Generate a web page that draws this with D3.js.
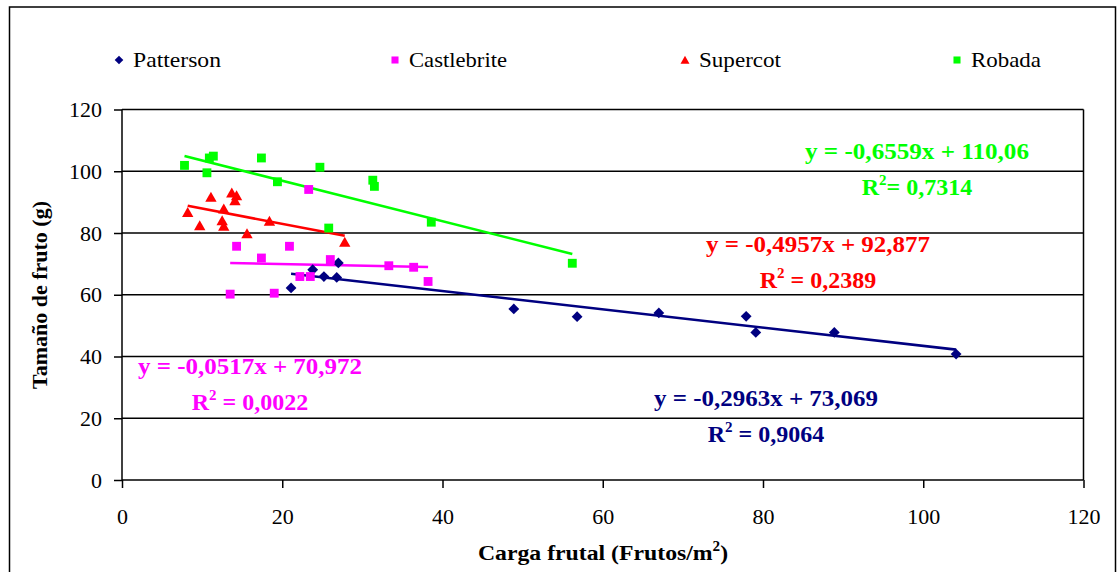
<!DOCTYPE html>
<html>
<head>
<meta charset="utf-8">
<script src="https://cdn.jsdelivr.net/npm/d3@7"></script>
<style>
  html, body { margin: 0; padding: 0; background: #fff; }
  svg { display: block; }
  svg text { font-family: "Liberation Serif", "Times New Roman", serif !important; }
</style>
</head>
<body>
<svg id="chart" width="1118" height="572"></svg>
<script>
// Fruit load (fruits/m2) vs. fruit size (g) for four apricot cultivars
const seriesNames = ["Patterson", "Castlebrite", "Supercot", "Robada"];
const seriesColors = ["#000080", "#FF00FF", "#FF0000", "#00FF00"];
const seriesShapes = ["diamond", "square", "triangle", "square"];

const pattersonX = [21.1, 23.8, 25.2, 26.8, 27.0, 48.9, 56.8, 67.0, 77.9, 79.1, 88.9, 104.1];
const pattersonY = [62.2, 68.1, 65.9, 65.6, 70.3, 55.4, 52.9, 54.1, 53.0, 47.8, 47.8, 40.8];

const castlebriteX = [14.3, 20.9, 17.4, 26.0, 33.3, 36.4, 38.2, 22.2, 23.5, 13.5, 19.0, 23.3];
const castlebriteY = [75.7, 75.7, 71.9, 71.4, 69.4, 68.9, 64.3, 65.9, 65.9, 60.2, 60.5, 94.1];

const supercotX = [8.2, 11.1, 13.7, 14.3, 14.1, 12.7, 9.7, 12.5, 12.7, 15.6, 18.4, 27.8];
const supercotY = [86.7, 91.6, 93.0, 92.1, 90.5, 87.8, 82.4, 84.0, 82.2, 79.8, 83.8, 77.0];

const robadaX = [7.8, 10.6, 10.9, 11.4, 17.4, 24.7, 19.4, 31.3, 31.5, 38.6, 25.8, 56.2];
const robadaY = [101.9, 99.5, 104.3, 104.9, 104.3, 101.3, 96.6, 97.1, 95.1, 83.5, 81.6, 70.2];

// Linear trend lines: slope, intercept, R²
const trendSlopes = [-0.2963, -0.0517, -0.4957, -0.6559];
const trendIntercepts = [73.069, 70.972, 92.877, 110.06];
const trendEquations = ["y = -0,2963x + 73,069", "y = -0,0517x + 70,972", "y = -0,4957x + 92,877", "y = -0,6559x + 110,06"];
const trendR2 = ["= 0,9064", "= 0,0022", "= 0,2389", "= 0,7314"];

const xTicks = [0, 20, 40, 60, 80, 100, 120];
const yTicks = [0, 20, 40, 60, 80, 100, 120];
const xTitle = "Carga frutal (Frutos/m";
const yTitle = "Tamaño de fruto (g)";

const seriesX = [pattersonX, castlebriteX, supercotX, robadaX];
const seriesY = [pattersonY, castlebriteY, supercotY, robadaY];

const FONT = "'Liberation Serif', 'Times New Roman', serif";
const svg = d3.select("#chart").attr("font-family", FONT);

// Outer chart frame
svg.append("rect")
  .attr("x", 9.5).attr("y", 7).attr("width", 1106).attr("height", 620)
  .attr("fill", "none").attr("stroke", "#000").attr("stroke-width", 1.5);

const plot = { left: 122, right: 1083.5, top: 109.5, bottom: 480 };
const x = d3.scaleLinear().domain([0, 120]).range([plot.left, plot.right]);
const y = d3.scaleLinear().domain([0, 120]).range([plot.bottom, plot.top]);

// Horizontal gridlines
svg.append("g").selectAll("line").data(yTicks.filter(d => d > 0)).join("line")
  .attr("x1", plot.left).attr("x2", plot.right)
  .attr("y1", d => y(d)).attr("y2", d => y(d))
  .attr("stroke", "#000").attr("stroke-width", 1.5);

// Right edge of plot area
svg.append("line")
  .attr("x1", plot.right).attr("x2", plot.right)
  .attr("y1", plot.top).attr("y2", plot.bottom)
  .attr("stroke", "#000").attr("stroke-width", 1.5);

// Axes
const xAxis = d3.axisBottom(x).tickValues(xTicks).tickSize(8).tickPadding(20).tickFormat(d3.format("d"));
const yAxis = d3.axisLeft(y).tickValues(yTicks).tickSize(8).tickPadding(12).tickFormat(d3.format("d"));

const gx = svg.append("g").attr("transform", `translate(0,${plot.bottom})`).call(xAxis);
const gy = svg.append("g").attr("transform", `translate(${plot.left},0)`).call(yAxis);
[gx, gy].forEach(g => {
  g.attr("font-family", FONT).attr("font-size", 22);
  g.select(".domain").attr("stroke", "#000").attr("stroke-width", 1.5);
  g.selectAll(".tick line").attr("stroke", "#000").attr("stroke-width", 1.5);
  g.selectAll(".tick text").attr("fill", "#000");
});
gx.select(".domain").attr("d", `M${plot.left},0H${plot.right}`);
gy.select(".domain").attr("d", `M0,${plot.bottom}V${plot.top}`);

// Axis titles
const xt = svg.append("text")
  .attr("transform", "translate(603,560) scale(1.08,1)")
  .attr("text-anchor", "middle")
  .attr("font-size", 22).attr("font-weight", "bold");
xt.append("tspan").text(xTitle);
xt.append("tspan").attr("dy", -9).attr("font-size", 14).text("2");
xt.append("tspan").attr("dy", 9).text(")");

svg.append("text")
  .attr("transform", "translate(47,295) rotate(-90)")
  .attr("text-anchor", "middle")
  .attr("font-size", 22).attr("font-weight", "bold")
  .text(yTitle);

// Marker shapes (diamond = square turned 45°)
function markerPath(shape, r) {
  if (shape === "diamond") return `M0,${-r}L${r},0L0,${r}L${-r},0Z`;
  if (shape === "triangle") return `M0,${-r}L${r * 1.05},${r * 0.85}L${-r * 1.05},${r * 0.85}Z`;
  return `M${-r * 0.82},${-r * 0.82}H${r * 0.82}V${r * 0.82}H${-r * 0.82}Z`;
}

// Trend lines, drawn across each series' x range
seriesNames.forEach((name, i) => {
  const [x0, x1] = d3.extent(seriesX[i]);
  const f = v => trendSlopes[i] * v + trendIntercepts[i];
  svg.append("line")
    .attr("x1", x(x0)).attr("y1", y(f(x0)))
    .attr("x2", x(x1)).attr("y2", y(f(x1)))
    .attr("stroke", seriesColors[i]).attr("stroke-width", 2.6);
});

// Data points
seriesNames.forEach((name, i) => {
  const pts = seriesX[i].map((v, j) => [v, seriesY[i][j]]);
  svg.append("g").selectAll("path").data(pts).join("path")
    .attr("d", markerPath(seriesShapes[i], 5.4))
    .attr("transform", d => `translate(${x(d[0])},${y(d[1])})`)
    .attr("fill", seriesColors[i]);
});

// Legend
const legendX = [119, 395, 685, 957];
const legend = svg.append("g");
seriesNames.forEach((name, i) => {
  legend.append("path").attr("d", markerPath(seriesShapes[i], 4.3))
    .attr("transform", `translate(${legendX[i]},60)`)
    .attr("fill", seriesColors[i]);
  legend.append("text")
    .attr("x", legendX[i] + 14).attr("y", 67)
    .attr("font-size", 22).attr("fill", "#000")
    .attr("textLength", [88, 98, 82, 70][i]).attr("lengthAdjust", "spacingAndGlyphs")
    .text(name);
});

// Trend equations and R² labels
const eqPos = [[766, 406], [250, 374], [818, 252], [917, 159]];
const r2Pos = [[766, 442], [250, 410], [818, 288], [917, 195]];
seriesNames.forEach((name, i) => {
  svg.append("text")
    .attr("x", eqPos[i][0]).attr("y", eqPos[i][1])
    .attr("text-anchor", "middle")
    .attr("fill", seriesColors[i])
    .attr("font-size", 24).attr("font-weight", "bold")
    .attr("textLength", 224).attr("lengthAdjust", "spacingAndGlyphs")
    .text(trendEquations[i]);
  const r = svg.append("text")
    .attr("x", r2Pos[i][0]).attr("y", r2Pos[i][1])
    .attr("text-anchor", "middle")
    .attr("fill", seriesColors[i])
    .attr("font-size", 24).attr("font-weight", "bold");
  r.append("tspan").text("R");
  r.append("tspan").attr("dy", -10).attr("font-size", 15).text("2");
  r.append("tspan").attr("dy", 10).text((i === 3 ? "" : " ") + trendR2[i]);
});
</script>
</body>
</html>
